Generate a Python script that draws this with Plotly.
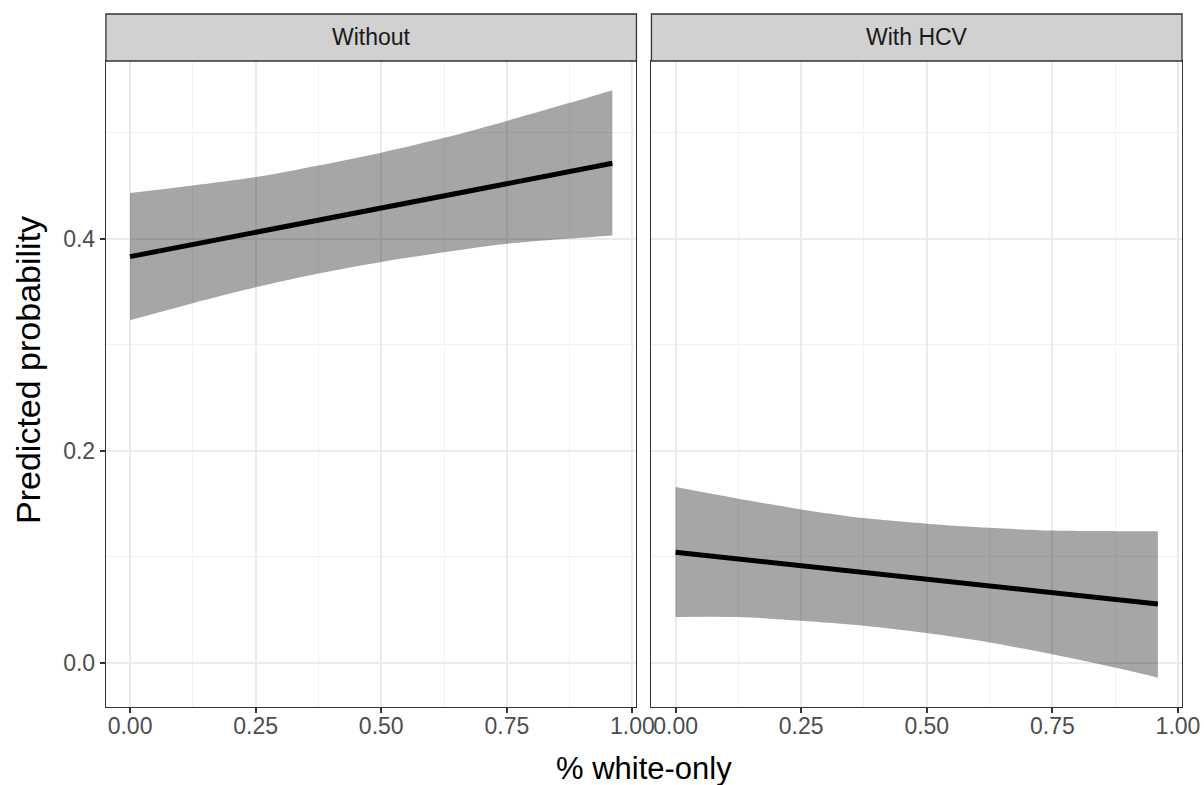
import plotly.graph_objects as go

# ---- data ----
x_vals = [0.0, 0.125, 0.25, 0.375, 0.5, 0.625, 0.75, 0.875, 0.96]

without_fit = [0.383, 0.3945, 0.406, 0.4174, 0.4288, 0.4403, 0.4518, 0.4632, 0.471]
without_lo = [0.323, 0.339, 0.354, 0.367, 0.378, 0.387, 0.395, 0.400, 0.403]
without_hi = [0.443, 0.450, 0.458, 0.469, 0.481, 0.495, 0.511, 0.528, 0.540]

hcv_fit = [0.104, 0.0976, 0.0913, 0.085, 0.0786, 0.0722, 0.0659, 0.0595, 0.0552]
hcv_lo = [0.043, 0.0429, 0.0394, 0.0347, 0.0278, 0.0189, 0.0079, -0.0047, -0.0142]
hcv_hi = [0.1656, 0.1546, 0.1445, 0.1363, 0.131, 0.1271, 0.1246, 0.124, 0.124]

panels = ["Without", "With HCV"]
x_ticks = [0.0, 0.25, 0.5, 0.75, 1.0]
x_labels = ["0.00", "0.25", "0.50", "0.75", "1.00"]
y_ticks = [0.0, 0.2, 0.4]
y_labels = ["0.0", "0.2", "0.4"]
x_title = "% white-only"
y_title = "Predicted probability"

# ---- style ----
FONT = "Liberation Sans, Arial, Helvetica, sans-serif"
BAND = "rgba(0,0,0,0.35)"
BORDER = "#333333"
W, H = 1204, 785
WX = 1187  # effective horizontal extent of the rendered paper
left_dom = [106 / WX, 637 / WX]
right_dom = [652 / WX, 1183 / WX]
y_dom = [(H - 707) / H, (H - 61) / H]
strip_top = (H - 14) / H
TICK_SIZE = 23

fig = go.Figure()

series = [
    (without_fit, without_lo, without_hi, "x", "y"),
    (hcv_fit, hcv_lo, hcv_hi, "x2", "y2"),
]
for fit, lo, hi, xa, ya in series:
    fig.add_trace(go.Scatter(x=x_vals, y=lo, mode="lines",
                             line=dict(width=0, shape="spline", smoothing=0.8),
                             xaxis=xa, yaxis=ya, showlegend=False, hoverinfo="skip"))
    fig.add_trace(go.Scatter(x=x_vals, y=hi, mode="lines",
                             line=dict(width=0, shape="spline", smoothing=0.8),
                             fill="tonexty", fillcolor=BAND,
                             xaxis=xa, yaxis=ya, showlegend=False, hoverinfo="skip"))
    fig.add_trace(go.Scatter(x=x_vals, y=fit, mode="lines",
                             line=dict(color="black", width=5),
                             xaxis=xa, yaxis=ya, showlegend=False))

xaxis_common = dict(
    range=[-0.048, 1.008], tickmode="array", tickvals=x_ticks, ticktext=x_labels,
    showgrid=True, gridcolor="#EBEBEB", gridwidth=1.5,
    minor=dict(showgrid=True, gridcolor="#F2F2F2", gridwidth=0.8, dtick=0.125, tick0=0),
    showline=True, mirror=True, linecolor=BORDER, linewidth=1.3,
    ticks="outside", ticklen=5, tickcolor=BORDER, tickwidth=1.5,
    ticklabelstandoff=-7,
    tickfont=dict(family=FONT, size=TICK_SIZE, color="#4D4D4D"),
    zeroline=False, fixedrange=True,
)
yaxis_common = dict(
    range=[-0.0419, 0.5675], tickmode="array", tickvals=y_ticks, ticktext=y_labels,
    showgrid=True, gridcolor="#EBEBEB", gridwidth=1.5,
    minor=dict(showgrid=True, gridcolor="#F2F2F2", gridwidth=0.8, dtick=0.1, tick0=0),
    showline=True, mirror=True, linecolor=BORDER, linewidth=1.3,
    zeroline=False, fixedrange=True, domain=y_dom,
)

fig.update_layout(
    width=W, height=H,
    autosize=False,
    margin=dict(l=0, r=0, t=0, b=0),
    paper_bgcolor="white", plot_bgcolor="white",
    font=dict(family=FONT),
    xaxis=dict(domain=left_dom, anchor="y", **xaxis_common),
    xaxis2=dict(domain=right_dom, anchor="y2", **xaxis_common),
    yaxis=dict(anchor="x", ticks="outside", ticklen=5, tickcolor=BORDER, tickwidth=1.5,
               tickfont=dict(family=FONT, size=TICK_SIZE, color="#4D4D4D"), **yaxis_common),
    yaxis2=dict(anchor="x2", matches="y", showticklabels=False, ticks="", **yaxis_common),
)

shapes = []
annotations = []
for dom, name in zip([left_dom, right_dom], panels):
    shapes.append(dict(type="rect", xref="paper", yref="paper",
                       x0=dom[0], x1=dom[1], y0=y_dom[1], y1=strip_top,
                       fillcolor="#D1D1D1", line=dict(color=BORDER, width=1.3), layer="above"))
    annotations.append(dict(text=name, xref="paper", yref="paper",
                            x=(dom[0] + dom[1]) / 2, y=(y_dom[1] + strip_top) / 2,
                            showarrow=False, xanchor="center", yanchor="middle",
                            font=dict(family=FONT, size=TICK_SIZE, color="#1A1A1A")))

annotations.append(dict(text=x_title, xref="paper", yref="paper",
                        x=(left_dom[0] + right_dom[1]) / 2, y=(H - 768) / H,
                        showarrow=False, xanchor="center", yanchor="middle",
                        font=dict(family=FONT, size=31, color="black")))
annotations.append(dict(text=y_title, xref="paper", yref="paper",
                        x=28 / WX, y=(H - 370) / H, textangle=-90,
                        showarrow=False, xanchor="center", yanchor="middle",
                        font=dict(family=FONT, size=34, color="black")))

fig.update_layout(shapes=shapes, annotations=annotations)
fig.write_html("out.html")
